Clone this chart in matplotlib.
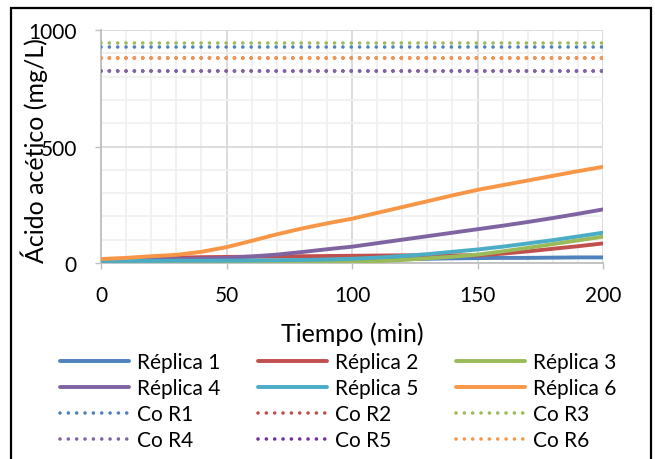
import matplotlib
matplotlib.use("Agg")
import matplotlib.pyplot as plt
from matplotlib.patches import Rectangle
from matplotlib.ticker import MultipleLocator

plt.rcParams['font.family'] = ['Lato', 'DejaVu Sans']

# tiempo (min)
tiempo = [0, 10, 20, 30, 40, 50, 60, 70, 80, 90, 100,
          110, 120, 130, 140, 150, 160, 170, 180, 190, 200]

# acido acetico (mg/L) por replica
replica_1 = [5, 6, 6, 7, 7, 8, 8, 9, 10, 11, 13, 14, 16, 18, 20, 21, 22, 22, 23, 24, 24]
replica_2 = [14, 18, 21, 23, 25, 26, 27, 28, 29, 30, 31, 32, 33, 33, 33, 33, 40, 50, 61, 72, 84]
replica_3 = [3, 3, 3, 3, 3, 4, 4, 4, 4, 5, 5, 8, 13, 20, 27, 36, 50, 65, 81, 97, 113]
replica_4 = [14, 15, 16, 17, 19, 22, 28, 36, 47, 59, 70, 85, 100, 115, 130, 145, 160, 176, 193, 211, 230]
replica_5 = [8, 9, 9, 10, 10, 10, 11, 12, 13, 15, 18, 23, 30, 38, 48, 58, 70, 84, 98, 114, 130]
replica_6 = [17, 22, 29, 35, 48, 68, 95, 123, 148, 170, 190, 215, 240, 265, 290, 314, 334, 354, 374, 394, 413]

# concentracion inicial (mg/L)
co_r1 = 925
co_r2 = 879
co_r3 = 943
co_r4 = 823
co_r5 = 823
co_r6 = 879

replicas = [replica_1, replica_2, replica_3, replica_4, replica_5, replica_6]
co_vals = [co_r1, co_r2, co_r3, co_r4, co_r5, co_r6]
rep_labels = ['Réplica 1', 'Réplica 2', 'Réplica 3', 'Réplica 4', 'Réplica 5', 'Réplica 6']
co_labels = ['Co R1', 'Co R2', 'Co R3', 'Co R4', 'Co R5', 'Co R6']

rep_colors = ['#4F81BD', '#C0504D', '#9BBB59', '#8064A2', '#4BACC6', '#F79646']
co_colors = ['#4F81BD', '#C0504D', '#9BBB59', '#8064A2', '#7030A0', '#F79646']

FS = 15
FS_TITLE = 18

fig = plt.figure(figsize=(6.55, 4.6), dpi=100)
ax = fig.add_axes([101 / 655, 1 - 264 / 460, 502 / 655, 233 / 460])

lines_rep = []
for ys, c, lab in zip(replicas, rep_colors, rep_labels):
    l, = ax.plot(tiempo, ys, color=c, lw=2.8, label=lab, solid_capstyle='round', zorder=3)
    lines_rep.append(l)

# Co R5 queda debajo de Co R4
zorders = [4, 4, 4, 4, 3.5, 4]
lines_co = []
for v, c, lab, z in zip(co_vals, co_colors, co_labels, zorders):
    l, = ax.plot([tiempo[0], tiempo[-1]], [v, v], color=c, lw=2.6,
                 linestyle=(0, (0.01, 2.3)), dash_capstyle='round', label=lab, zorder=z)
    lines_co.append(l)

ax.set_xlim(0, 200)
ax.set_ylim(0, 1000)
ax.xaxis.set_major_locator(MultipleLocator(50))
ax.xaxis.set_minor_locator(MultipleLocator(10))
ax.yaxis.set_major_locator(MultipleLocator(500))
ax.yaxis.set_minor_locator(MultipleLocator(100))
ax.grid(which='major', color='#d9d9d9', lw=1.3, zorder=1)
ax.grid(which='minor', color='#f0f0f0', lw=1.3, zorder=0)
ax.set_axisbelow(True)
for s in ['top', 'right']:
    ax.spines[s].set_visible(False)
for s in ['left', 'bottom']:
    ax.spines[s].set_color('#bfbfbf')
    ax.spines[s].set_linewidth(1.3)
ax.tick_params(which='major', length=4.5, width=1, color='#bfbfbf', labelsize=FS)
ax.tick_params(axis='x', which='major', pad=11.5)
ax.tick_params(axis='y', which='major', pad=13)
ax.tick_params(which='minor', length=0)

ax.set_xlabel('Tiempo (min)', fontsize=FS_TITLE)
ax.set_ylabel('Ácido acético (mg/L)', fontsize=FS_TITLE)
ax.xaxis.set_label_coords(0.5, -0.249)
ax.yaxis.set_label_coords(-0.106, 0.485)

handles = [lines_rep[0], lines_rep[1], lines_rep[2],
           lines_rep[3], lines_rep[4], lines_rep[5],
           lines_co[0], lines_co[1], lines_co[2],
           lines_co[3], lines_co[4], lines_co[5]]
# ncol=3 rellena por columnas, reordenar
order = [0, 3, 6, 9, 1, 4, 7, 10, 2, 5, 8, 11]
h = [handles[i] for i in order]
fig.legend(h, [x.get_label() for x in h], ncol=3, loc='upper left',
           bbox_to_anchor=(52 / 655, 1 - 345 / 460), frameon=False, fontsize=FS,
           handlelength=3.3, handletextpad=0.4, columnspacing=1.8, labelspacing=0.29,
           borderaxespad=0)

fig.patches.append(Rectangle((11 / 655, -0.05), 640 / 655, 1.05 - 9 / 460,
                             transform=fig.transFigure, fill=False, ec='black', lw=1.6))

fig.savefig('out.png', dpi=100)
